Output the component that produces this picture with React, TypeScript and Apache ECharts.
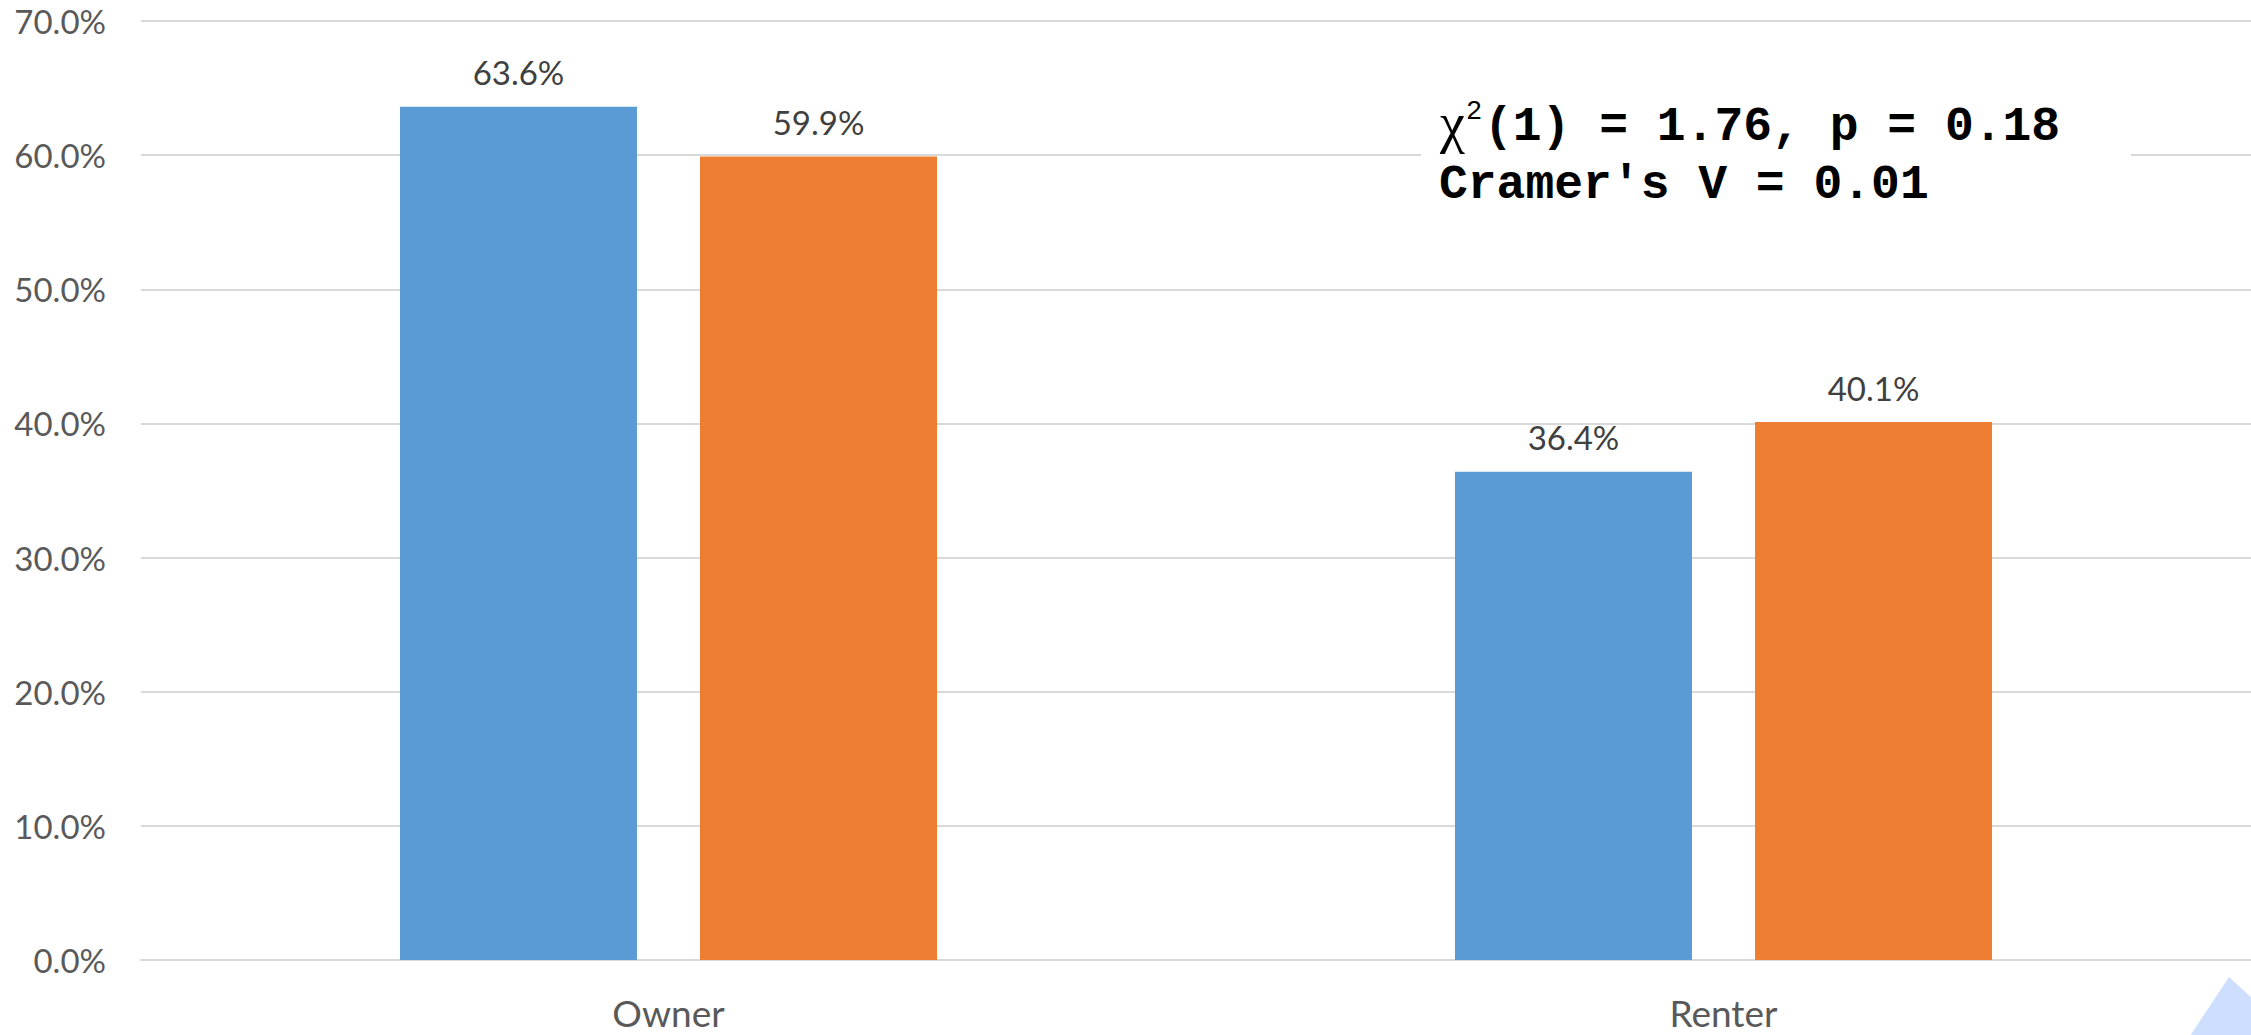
import React, { useEffect, useRef } from "react";
import * as echarts from "echarts";

const categories = ["Owner", "Renter"];
const seriesBlue = [63.6, 36.4];
const seriesOrange = [59.9, 40.1];
const yMin = 0;
const yMax = 70;
const yInterval = 10;
const statLine1 = "(1) = 1.76, p = 0.18";
const statLine2 = "Cramer's V = 0.01";

export default function App() {
  const ref = useRef<HTMLDivElement>(null);
  useEffect(() => {
    document.body.style.margin = "0";
    const chart = echarts.init(ref.current!, null, { renderer: "svg" });
    const pctFmt = (v: number) => `${Number(v).toFixed(1)}%`;
    const valueLabel = {
      show: true,
      position: "top",
      distance: 18,
      color: "#404040",
      fontFamily: "Lato",
      fontSize: 33,
      formatter: (p: any) => pctFmt(p.value),
    };
    chart.setOption({
      animation: false,
      backgroundColor: "#ffffff",
      grid: { left: 141, right: 0, top: 21, bottom: 75, containLabel: false },
      xAxis: {
        type: "category",
        data: categories,
        axisLine: { show: true, lineStyle: { color: "#D9D9D9", width: 2 } },
        axisTick: { show: false },
        axisLabel: {
          color: "#595959",
          fontFamily: "Lato",
          fontSize: 37,
          lineHeight: 32,
          margin: 36,
        },
      },
      yAxis: {
        type: "value",
        min: yMin,
        max: yMax,
        interval: yInterval,
        axisLine: { show: false },
        axisTick: { show: false },
        splitLine: { lineStyle: { color: "#D9D9D9", width: 2 } },
        axisLabel: {
          color: "#595959",
          fontFamily: "Lato",
          fontSize: 33,
          margin: 35,
          formatter: pctFmt,
        },
      },
      series: [
        {
          name: "Blue",
          type: "bar",
          data: seriesBlue,
          barWidth: 237,
          barGap: "26.6%",
          itemStyle: { color: "#5B9BD5" },
          label: valueLabel,
        },
        {
          name: "Orange",
          type: "bar",
          data: seriesOrange,
          barWidth: 237,
          barGap: "26.6%",
          itemStyle: { color: "#ED7D31" },
          label: valueLabel,
        },
      ],
      graphic: [
        {
          type: "rect",
          shape: { x: 1421, y: 92, width: 710, height: 130 },
          style: { fill: "#ffffff" },
          z: 100,
        },
        {
          type: "text",
          x: 1440,
          y: 123,
          z: 101,
          style: {
            text: "χ",
            fill: "#000000",
            font: "normal 56px 'Liberation Serif'",
            verticalAlign: "middle",
          },
        },
        {
          type: "text",
          x: 1466,
          y: 112,
          z: 101,
          style: {
            text: "2",
            fill: "#000000",
            font: "normal 27px 'Liberation Mono'",
            verticalAlign: "middle",
          },
        },
        {
          type: "text",
          x: 1484,
          y: 127,
          z: 101,
          style: {
            text: statLine1,
            fill: "#000000",
            font: "bold 48px 'Liberation Mono'",
            verticalAlign: "middle",
          },
        },
        {
          type: "text",
          x: 1439,
          y: 185,
          z: 101,
          style: {
            text: statLine2,
            fill: "#000000",
            font: "bold 48px 'Liberation Mono'",
            verticalAlign: "middle",
          },
        },
        {
          type: "polygon",
          z: 100,
          shape: {
            points: [
              [2229, 977],
              [2300, 1042],
              [2186, 1042],
            ],
          },
          style: { fill: "#CDDEFE" },
        },
      ],
    });
    return () => chart.dispose();
  }, []);
  return (
    <div
      ref={ref}
      style={{ position: "fixed", left: 0, top: 0, width: 2251, height: 1035 }}
    />
  );
}
